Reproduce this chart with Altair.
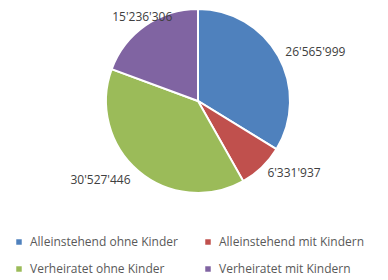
import altair as alt
import pandas as pd

categories = ["Alleinstehend ohne Kinder", "Alleinstehend mit Kindern",
              "Verheiratet ohne Kinder", "Verheiratet mit Kindern"]
values = [26565999, 6331937, 30527446, 15236306]
labels = ["26'565'999", "6'331'937", "30'527'446", "15'236'306"]
colors = ["#4F81BD", "#C0504D", "#9BBB59", "#8064A2"]

df = pd.DataFrame({"cat": categories, "value": values, "label": labels,
                   "order": list(range(len(categories)))})

CX, CY, R = 190, 93, 92

base = alt.Chart(df)

pie = base.mark_arc(outerRadius=R, stroke="white", strokeWidth=2).encode(
    theta=alt.Theta("value:Q", stack=True),
    order=alt.Order("order:Q"),
    color=alt.Color(
        "cat:N",
        scale=alt.Scale(domain=categories, range=colors),
        sort=categories,
        legend=alt.Legend(
            title=None, orient="none", legendX=5, legendY=228, columns=2,
            direction="horizontal",
            symbolType="square", symbolSize=30, labelFont="Open Sans",
            labelFontSize=12, labelColor="#595959", columnPadding=24,
            rowPadding=15, labelOffset=5, symbolStrokeWidth=0,
        ),
    ),
    x=alt.value(CX),
    y=alt.value(CY),
)

lab = base.transform_joinaggregate(total="sum(value)").transform_window(
    cum="sum(value)", sort=[alt.SortField("order")]
).transform_calculate(
    mid="2*PI*(datum.cum - datum.value/2)/datum.total",
    s="sin(2*PI*(datum.cum - datum.value/2)/datum.total)",
    c="cos(2*PI*(datum.cum - datum.value/2)/datum.total)",
)

enc = dict(
    theta=alt.Theta("mid:Q", scale=None, stack=False),
    text="label:N",
    x=alt.value(CX),
    y=alt.value(CY),
)
tstyle = dict(font="Open Sans", fontSize=12, color="#404040")

right = lab.transform_filter("datum.s >= 0.6").mark_text(
    align="left", baseline="middle", radius=100, **tstyle).encode(**enc)
left = lab.transform_filter("datum.s <= -0.6").mark_text(
    align="right", baseline="middle", radius=104, **tstyle).encode(**enc)
top = lab.transform_filter("abs(datum.s) < 0.6 && datum.c > 0").mark_text(
    align="center", baseline="bottom", radius=94, dx=-2, **tstyle).encode(**enc)
bottom = lab.transform_filter("abs(datum.s) < 0.6 && datum.c <= 0").mark_text(
    align="center", baseline="top", radius=100, **tstyle).encode(**enc)

chart = alt.layer(pie, right, left, top, bottom).properties(
    width=372, height=272, padding=0,
    autosize=alt.AutoSizeParams(type="none"),
).configure_view(stroke=None)

chart.save("out.html", embed_options={"renderer": "svg", "actions": False})
